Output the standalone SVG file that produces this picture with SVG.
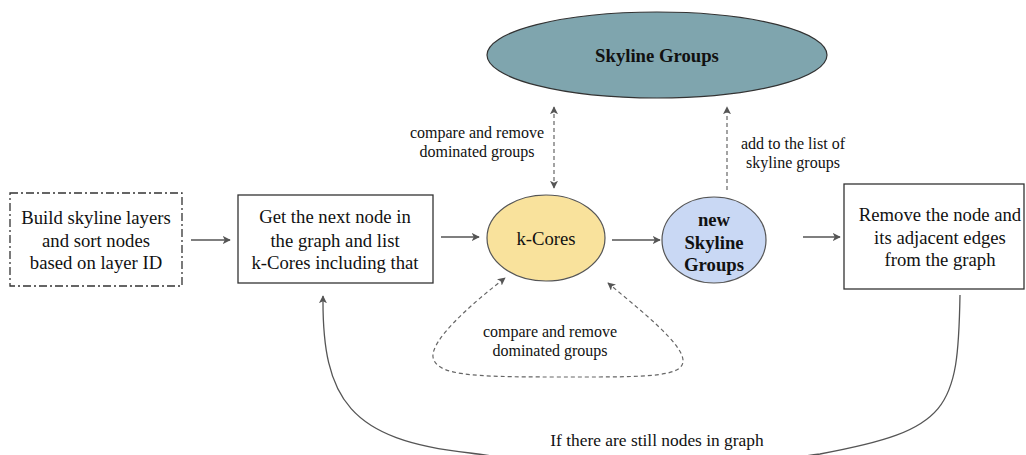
<svg xmlns="http://www.w3.org/2000/svg" width="1026" height="455" viewBox="0 0 1026 455">
  <defs>
    <marker id="arrow" viewBox="0 0 10 10" refX="9" refY="5" markerWidth="8" markerHeight="8" markerUnits="userSpaceOnUse" orient="auto-start-reverse">
      <path d="M0,0 L10,5 L0,10 L2.5,5 Z" fill="#555"/>
    </marker>
    <style>
      .lbl { font-family: "Liberation Serif", "Times New Roman", serif; fill: #111; text-anchor: middle; }
      .main { font-size: 18.7px; }
      .bold { font-size: 18.7px; font-weight: bold; }
      .small { font-size: 16px; }
      .box { fill: #fff; stroke: #333; stroke-width: 1.3; }
      .conn { fill: none; stroke: #555; stroke-width: 1.3; }
      .dash { fill: none; stroke: #666; stroke-width: 1.2; stroke-dasharray: 4 3; }
    </style>
  </defs>
  <rect width="1026" height="455" fill="#fff"/>

  <!-- connectors -->
  <g id="connectors">
    <line class="conn" x1="191" y1="240" x2="230" y2="240" marker-end="url(#arrow)"/>
    <line class="conn" x1="441" y1="237" x2="479" y2="237" marker-end="url(#arrow)"/>
    <line class="conn" x1="612" y1="240" x2="660" y2="240" marker-end="url(#arrow)"/>
    <line class="conn" x1="803" y1="237" x2="840" y2="237" marker-end="url(#arrow)"/>
    <!-- k-Cores <-> Skyline Groups -->
    <line class="dash" x1="554" y1="107" x2="554" y2="188" marker-start="url(#arrow)" marker-end="url(#arrow)"/>
    <!-- new groups -> Skyline Groups -->
    <line class="dash" x1="727" y1="190" x2="727" y2="107" marker-end="url(#arrow)"/>
    <!-- self loop on k-Cores -->
    <path class="dash" d="M608,283 C640,310 685,345 683,362 C681,378 640,377 555,377 C470,377 436,375 433,357 C431,340 470,305 505,278" marker-start="url(#arrow)" marker-end="url(#arrow)"/>
    <!-- loop back while nodes remain -->
    <path class="conn" d="M960,295 C958,410 950,430 820,454 Q645,478 470,453 C350,440 322,400 323,296" marker-end="url(#arrow)"/>
  </g>

  <!-- connector labels -->
  <g id="labels">
    <text class="lbl small" x="477" y="138">compare and remove</text>
    <text class="lbl small" x="477" y="157">dominated groups</text>
    <text class="lbl small" x="793" y="149">add to the list of</text>
    <text class="lbl small" x="793" y="168">skyline groups</text>
    <text class="lbl small" x="550" y="337">compare and remove</text>
    <text class="lbl small" x="550" y="356">dominated groups</text>
    <text class="lbl" style="font-size:17.4px" x="657" y="446">If there are still nodes in graph</text>
  </g>

  <g id="build-layers">
    <rect class="box" x="10" y="193" width="172" height="93" style="stroke-dasharray: 8 3 2 3"/>
    <text class="lbl main" x="96" y="224">Build skyline layers</text>
    <text class="lbl main" x="96" y="247">and sort nodes</text>
    <text class="lbl main" x="96" y="269">based on layer ID</text>
  </g>

  <g id="next-node">
    <rect class="box" x="238" y="195" width="195" height="88"/>
    <text class="lbl main" x="335" y="223">Get the next node in</text>
    <text class="lbl main" x="335" y="247">the graph and list</text>
    <text class="lbl main" x="335" y="269">k-Cores including that</text>
  </g>

  <g id="k-cores">
    <ellipse cx="546" cy="238" rx="59" ry="43" fill="#f9e29c" stroke="#555" stroke-width="1.2"/>
    <text class="lbl main" x="546" y="245">k-Cores</text>
  </g>

  <g id="new-skyline-groups">
    <ellipse cx="714" cy="240" rx="52" ry="43" fill="#c9d8f4" stroke="#555" stroke-width="1.2"/>
    <text class="lbl bold" x="714" y="226">new</text>
    <text class="lbl bold" x="714" y="249">Skyline</text>
    <text class="lbl bold" x="714" y="271">Groups</text>
  </g>

  <g id="remove-node">
    <rect class="box" x="844" y="184" width="180" height="105"/>
    <text class="lbl main" x="940" y="221">Remove the node and</text>
    <text class="lbl main" x="940" y="244">its adjacent edges</text>
    <text class="lbl main" x="940" y="266">from the graph</text>
  </g>

  <g id="skyline-groups">
    <ellipse cx="657" cy="55" rx="170" ry="43" fill="#7fa5ae" stroke="#333" stroke-width="1.2"/>
    <text class="lbl bold" x="657" y="62">Skyline Groups</text>
  </g>
</svg>
